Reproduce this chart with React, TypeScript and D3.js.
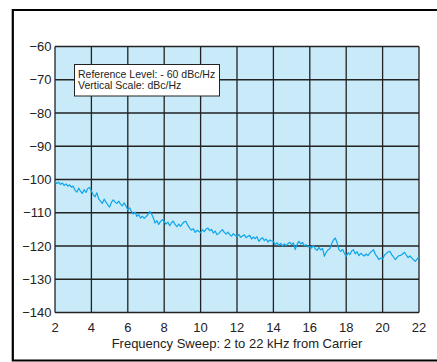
import React, { useRef, useEffect } from 'react';
import * as d3 from 'd3';

// x ticks (kHz) and y ticks (dBc/Hz)
const freqTicks = [2, 4, 6, 8, 10, 12, 14, 16, 18, 20, 22];
const levelTicks = [-60, -70, -80, -90, -100, -110, -120, -130, -140];
const legendLines = ['Reference Level: - 60 dBc/Hz', 'Vertical Scale: dBc/Hz'];
const axisTitle = 'Frequency Sweep: 2 to 22 kHz from Carrier';

const noise = [
  -100.6, -101.2, -100.8, -101.5, -101.0, -101.8, -101.3, -102.0, -101.6, -102.3,
  -102.0, -103.2, -103.8, -102.6, -103.5, -104.2, -103.0, -103.9, -102.7, -102.4,
  -103.5, -104.6, -105.2, -104.0, -105.8, -106.5, -107.2, -105.9, -106.8, -107.6,
  -108.3, -106.9, -106.1, -106.8, -107.2, -106.5, -107.4, -107.9, -107.0, -108.0,
  -109.2, -108.5, -109.6, -110.4, -109.8, -111.1, -110.5, -111.6, -111.0, -111.7,
  -111.2, -110.6, -109.6, -110.3, -111.5, -113.1, -112.4, -113.5, -112.6, -112.1,
  -112.6, -113.4, -112.8, -113.9, -113.0, -112.5, -113.6, -114.2, -113.4, -114.1,
  -113.3, -112.7, -112.6, -113.8, -114.6, -115.2, -114.8, -115.9, -115.3, -115.6,
  -116.0, -115.1, -115.7, -114.9, -114.6, -115.4, -115.0, -116.1, -115.5, -116.6,
  -116.2, -115.6, -115.1, -115.9, -116.4, -115.8, -116.6, -117.0, -116.3, -116.8,
  -117.1, -116.5, -117.4, -117.0, -116.6, -117.5, -117.1, -116.8, -117.9, -117.3,
  -117.8, -117.2, -118.6, -117.9, -117.5, -118.4, -117.9, -118.8, -118.2, -118.5,
  -118.6, -119.6, -119.0, -119.8, -119.2, -120.0, -119.4, -119.9, -119.3, -118.9,
  -119.6, -119.1, -121.1, -119.5, -118.6, -119.4, -118.9, -119.9, -119.6, -120.3,
  -120.1, -120.6, -119.8, -120.9, -121.3, -120.4, -121.2, -120.7, -123.1, -121.9,
  -121.2, -120.8, -119.4, -118.2, -117.6, -119.0, -121.1, -121.6, -121.0, -122.2,
  -123.1, -122.0, -122.6, -121.5, -121.1, -122.4, -121.7, -122.9, -122.2, -122.6,
  -123.0, -122.4, -122.9, -122.1, -121.6, -121.1, -122.5, -123.2, -124.1, -123.6,
  -123.9, -122.8, -122.3, -121.8, -121.6, -122.6, -123.3, -124.1, -123.4, -122.9,
  -122.8, -122.4, -121.9, -122.7, -123.5, -123.0, -123.6, -124.2, -124.6, -123.9,
  -123.3,
];

const App = () => {
  const svgRef = useRef<SVGSVGElement>(null);
  const width = 437;
  const height = 362;
  const margin = { top: 46.5, bottom: 49.5, left: 55, right: 18 };

  useEffect(() => {
    const svg = d3.select(svgRef.current);
    svg.selectAll('*').remove();

    const x = d3.scaleLinear().domain([2, 22]).range([margin.left, width - margin.right]);
    const y = d3.scaleLinear().domain([-140, -60]).range([height - margin.bottom, margin.top]);
    const font = "'Liberation Sans', Arial, Helvetica, sans-serif";

    // outer frame (open on the right)
    svg.append('path')
      .attr('d', `M${width + 5},10 H12.8 V360.5 H${width + 5}`)
      .attr('fill', 'none')
      .attr('stroke', '#000')
      .attr('stroke-width', 2.2);

    // plot background
    svg.append('rect')
      .attr('x', x(2)).attr('y', y(-60))
      .attr('width', x(22) - x(2)).attr('height', y(-140) - y(-60))
      .attr('fill', '#c8eaf9');

    const grid = svg.append('g').attr('stroke', '#222').attr('stroke-width', 1.3);
    grid.selectAll('.vx').data(freqTicks).join('line')
      .attr('x1', d => x(d)).attr('x2', d => x(d))
      .attr('y1', y(-60)).attr('y2', y(-140));
    grid.selectAll('.hy').data(levelTicks).join('line')
      .attr('y1', d => y(d)).attr('y2', d => y(d))
      .attr('x1', x(2)).attr('x2', x(22));

    // trace
    const freqs = d3.range(noise.length).map(i => 2 + i * 0.1);
    const line = d3.line<number>()
      .x((_, i) => x(freqs[i]))
      .y(d => y(d));
    svg.append('path')
      .datum(noise)
      .attr('d', line)
      .attr('fill', 'none')
      .attr('stroke', '#0ea6e8')
      .attr('stroke-width', 1.2)
      .attr('stroke-linejoin', 'round');

    // y tick labels
    svg.append('g').selectAll('text').data(levelTicks).join('text')
      .attr('x', x(2) - 3.5)
      .attr('y', d => y(d))
      .attr('dy', '0.36em')
      .attr('text-anchor', 'end')
      .attr('font-family', font)
      .attr('font-size', 13)
      .attr('fill', '#222')
      .text(d => String(d).replace('-', '\u2212'));

    // x tick labels
    svg.append('g').selectAll('text').data(freqTicks).join('text')
      .attr('x', d => x(d))
      .attr('y', 332)
      .attr('text-anchor', 'middle')
      .attr('font-family', font)
      .attr('font-size', 13)
      .attr('fill', '#222')
      .text(d => d);

    svg.append('text')
      .attr('x', 237)
      .attr('y', 347.5)
      .attr('text-anchor', 'middle')
      .attr('font-family', font)
      .attr('font-size', 13)
      .attr('fill', '#222')
      .text(axisTitle);

    // legend box
    svg.append('rect')
      .attr('x', 74.5).attr('y', 64.5)
      .attr('width', 145).attr('height', 31.5)
      .attr('fill', '#fff')
      .attr('stroke', '#222')
      .attr('stroke-width', 1);
    svg.append('g').selectAll('text').data(legendLines).join('text')
      .attr('x', 78)
      .attr('y', (_, i) => 77.5 + i * 11.5)
      .attr('font-family', font)
      .attr('font-size', 10.5)
      .attr('fill', '#222')
      .text(d => d);
  }, []);

  return (
    <svg ref={svgRef} width={width} height={height}
      style={{ position: 'absolute', left: 0, top: 0, background: '#fff' }} />
  );
};

export default App;
